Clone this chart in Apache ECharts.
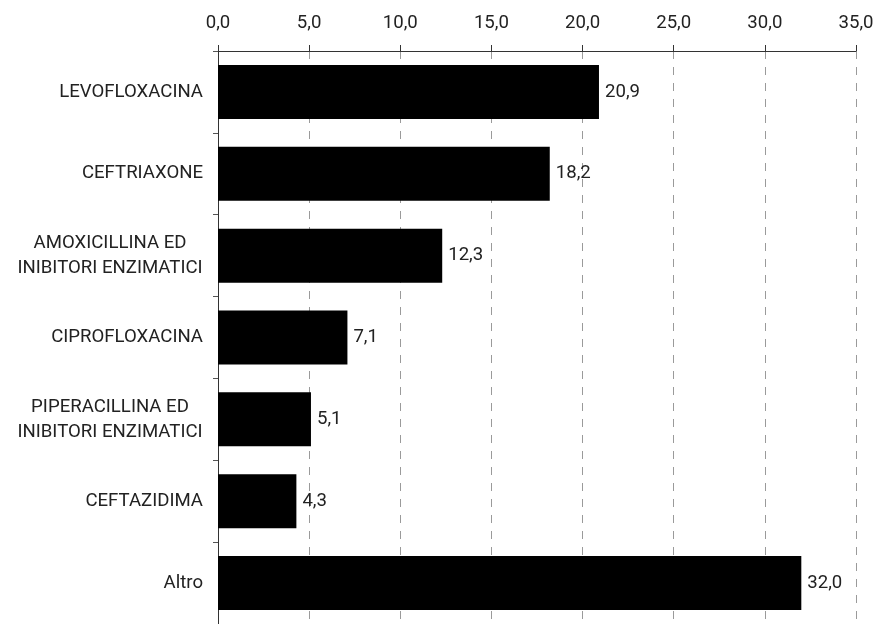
<!DOCTYPE html>
<html>
<head>
<meta charset="utf-8">
<script src="https://cdn.jsdelivr.net/npm/echarts@6/dist/echarts.min.js"></script>
<style>
  html, body { margin: 0; padding: 0; background: #fff; }
  #chart { width: 881px; height: 624px; }
</style>
</head>
<body>
<div id="chart"></div>
<script>
// categorie (dall'alto verso il basso)
var farmaci = [
    'LEVOFLOXACINA',
    'CEFTRIAXONE',
    'AMOXICILLINA ED\nINIBITORI ENZIMATICI',
    'CIPROFLOXACINA',
    'PIPERACILLINA ED\nINIBITORI ENZIMATICI',
    'CEFTAZIDIMA',
    'Altro'
];
// percentuali
var valori = [20.9, 18.2, 12.3, 7.1, 5.1, 4.3, 32.0];
// asse x
var xMin = 0, xMax = 35, xPasso = 5;

var FONT = 'Roboto';
var SIZE = 18.6;
var testo = '#222';

// larghezza della riga piu' lunga, per centrare le etichette su due righe
var cnv = document.createElement('canvas').getContext('2d');
cnv.font = SIZE + 'px ' + FONT;
var larghezzaMax = 0;
farmaci.forEach(function (f) {
    f.split('\n').forEach(function (r) {
        larghezzaMax = Math.max(larghezzaMax, cnv.measureText(r).width);
    });
});

function virgola(v) {
    return v.toFixed(1).replace('.', ',');
}

var chart = echarts.init(document.getElementById('chart'));
chart.setOption({
    animation: false,
    grid: { left: 218, top: 51, width: 638, height: 577 },
    xAxis: {
        type: 'value',
        position: 'top',
        min: xMin,
        max: xMax,
        interval: xPasso,
        axisLine: { show: true, lineStyle: { color: '#333', width: 1 } },
        axisTick: { show: true, length: 6, lineStyle: { color: '#333' } },
        axisLabel: {
            margin: 18,
            fontFamily: FONT,
            fontSize: SIZE,
            color: testo,
            formatter: virgola
        },
        splitLine: {
            show: true,
            lineStyle: { color: '#9a9a9a', type: [8, 8], width: 1 }
        }
    },
    yAxis: {
        type: 'category',
        data: farmaci,
        inverse: true,
        axisLine: { show: true, lineStyle: { color: '#333', width: 1 } },
        axisTick: { show: true, length: 5, lineStyle: { color: '#555' } },
        axisLabel: {
            margin: 15,
            fontFamily: FONT,
            fontSize: SIZE,
            color: testo,
            formatter: function (v) {
                if (v.indexOf('\n') < 0) return v;
                return v.split('\n').map(function (r) {
                    return '{c|' + r + '}';
                }).join('\n');
            },
            rich: {
                c: {
                    width: Math.ceil(larghezzaMax),
                    align: 'center',
                    fontFamily: FONT,
                    fontSize: SIZE,
                    lineHeight: 25,
                    color: testo
                }
            }
        }
    },
    series: [{
        type: 'bar',
        data: valori,
        barWidth: 54,
        itemStyle: { color: '#000' },
        label: {
            show: true,
            position: 'right',
            distance: 6,
            fontFamily: FONT,
            fontSize: SIZE,
            color: testo,
            formatter: function (p) { return virgola(p.value); }
        }
    }]
});
</script>
</body>
</html>
